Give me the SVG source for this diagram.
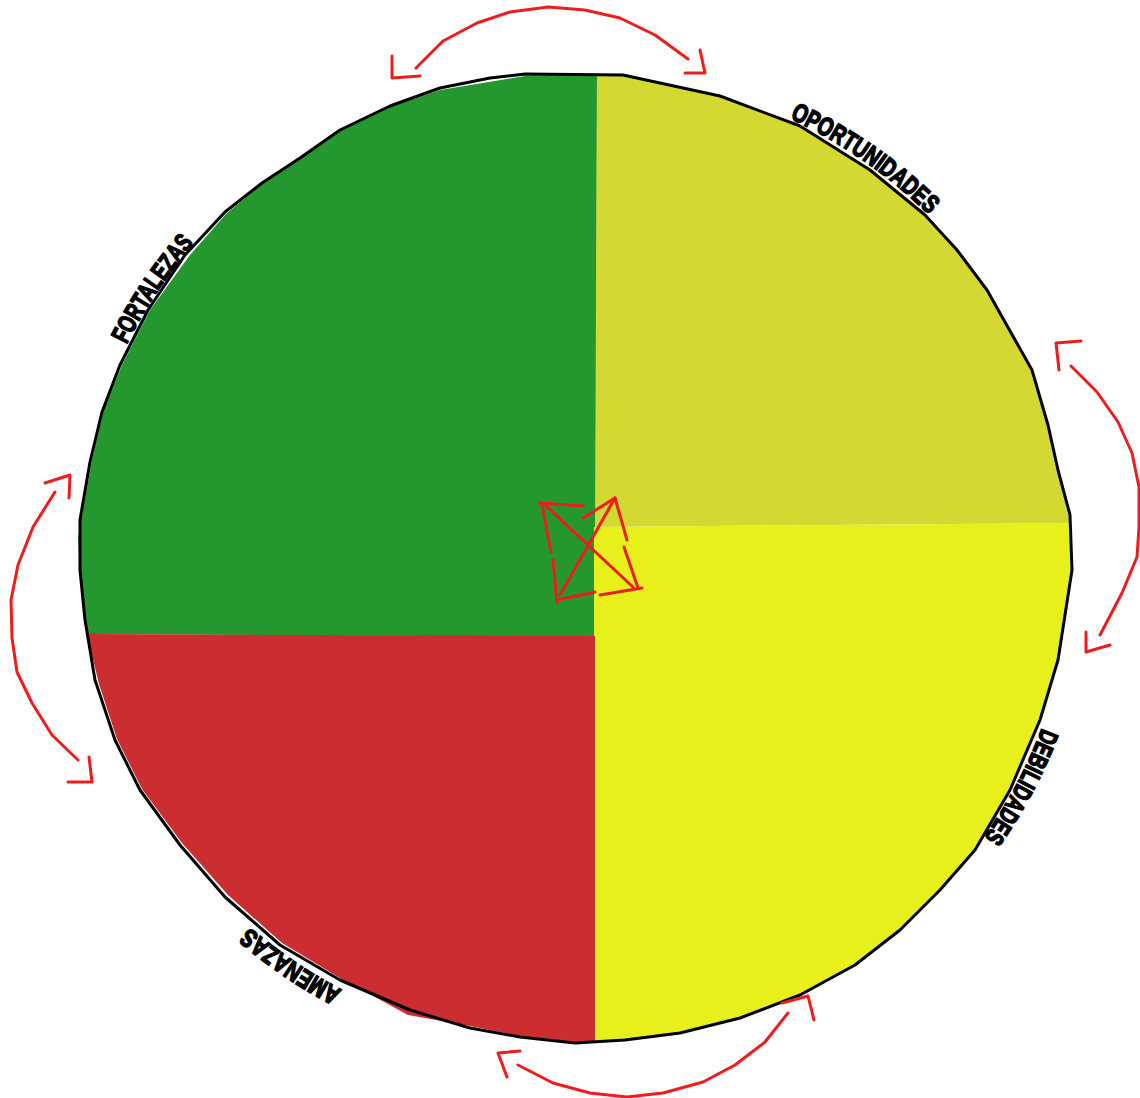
<svg xmlns="http://www.w3.org/2000/svg" width="1140" height="1098" viewBox="0 0 1140 1098">
<style>
.q{stroke:none}
.outline{fill:none;stroke:#000;stroke-width:3;stroke-linejoin:round}
.r{fill:none;stroke:#ee1d1d;stroke-width:3;stroke-linecap:round;stroke-linejoin:round}
.lbl{font-family:"Liberation Sans",Arial,sans-serif;font-weight:bold;font-size:26px;fill:#000;stroke:#000;stroke-width:1.6}
</style>
<defs>
<path id="pOp" d="M789.8,118.4 A499,487 0 0 1 940,225.9"/>
<path id="pFo" d="M126.5,344.5 A499,487 0 0 1 195.6,241.7"/>
<path id="pDe" d="M1042,728 A499,487 0 0 1 981.2,840.8"/>
<path id="pAm" d="M342,990 A499,487 0 0 1 247.6,925.5"/>
</defs>
<rect width="1140" height="1098" fill="#fff"/>
<g id="circle">
<polygon id="q-fortalezas" class="q" fill="#25972f" points="597,74 525,76 440,90 390,107 340,131 300,158 262,184 226,214 190,255 150,310 122,365 103,412 92,460 78,537 80,575 87,634 596,637"/>
<polygon id="q-oportunidades" class="q" fill="#d4d832" points="597,74 623,75 720,96 800,126 870,170 925,215 957,250 987,290 1032,370 1048,425 1058,470 1070,523 595,527"/>
<polygon id="q-debilidades" class="q" fill="#e8f01c" points="594,527 1070,523 1072,570 1058,660 1040,720 1010,790 975,850 940,890 900,930 855,965 800,995 740,1018 680,1033 625,1040 594,1041"/>
<polygon id="q-amenazas" class="q" fill="#cb2d30" points="87,634 595,636 595,1043 575,1042 520,1036 470,1026 408,1015 340,978 282,943 228,895 182,843 142,789 117,739 99,684"/>
<polygon class="outline" points="525,74 623,75 720,96 800,126 870,170 925,215 957,250 987,290 1032,370 1048,425 1058,470 1070,515 1072,570 1058,660 1040,720 1010,790 975,850 940,890 900,930 855,965 800,995 740,1018 680,1033 625,1040 575,1043 520,1037 470,1028 410,1010 340,980 280,945 225,897 180,845 140,790 115,740 95,680 85,620 80,570 80,520 90,462 102,412 120,365 148,310 185,255 225,212 262,183 300,158 340,130 390,106 440,88 490,78"/>
</g>
<g id="labels">
<text class="lbl"><textPath href="#pOp" textLength="170" lengthAdjust="spacingAndGlyphs">OPORTUNIDADES</textPath></text>
<text class="lbl"><textPath href="#pFo" textLength="122" lengthAdjust="spacingAndGlyphs">FORTALEZAS</textPath></text>
<text class="lbl"><textPath href="#pDe" textLength="124" lengthAdjust="spacingAndGlyphs">DEBILIDADES</textPath></text>
<text class="lbl"><textPath href="#pAm" textLength="112" lengthAdjust="spacingAndGlyphs">AMENAZAS</textPath></text>
</g>
<g id="connectors">
<polyline class="r" points="416,68 443,41 477,23 510,12 548,7 585,10 620,18 655,35 688,59"/>
<polyline class="r" points="392,56 392,78 420,76"/>
<polyline class="r" points="700,50 705,73 685,73"/>
<polyline class="r" points="1071,366 1097,392 1118,422 1132,453 1139,487 1139,527 1137,557 1122,593 1100,635"/>
<polyline class="r" points="1059,370 1056,343 1081,341"/>
<polyline class="r" points="1086,632 1086,652 1110,645"/>
<polyline class="r" points="78,760 52,735 32,703 17,672 12,638 11,600 18,565 33,527 55,492"/>
<polyline class="r" points="45,483 70,475 69,498"/>
<polyline class="r" points="89,757 92,782 68,782"/>
<polyline class="r" points="518,1065 553,1083 590,1093 627,1097 663,1093 703,1082 735,1065 765,1042 788,1013"/>
<polyline class="r" points="520,1051 498,1053 507,1077"/>
<polyline class="r" points="782,1003 808,996 814,1020"/>
<line class="r" x1="539" y1="503" x2="583" y2="506"/>
<line class="r" x1="542" y1="505" x2="551" y2="552"/>
<line class="r" x1="553" y1="560" x2="557" y2="603"/>
<line class="r" x1="545" y1="505" x2="633" y2="587"/>
<line class="r" x1="615" y1="498" x2="560" y2="595"/>
<line class="r" x1="583" y1="518" x2="615" y2="498"/>
<line class="r" x1="615" y1="498" x2="627" y2="540"/>
<line class="r" x1="624" y1="547" x2="638" y2="588"/>
<line class="r" x1="557" y1="600" x2="595" y2="592"/>
<line class="r" x1="600" y1="595" x2="642" y2="588"/>
</g>
</svg>
